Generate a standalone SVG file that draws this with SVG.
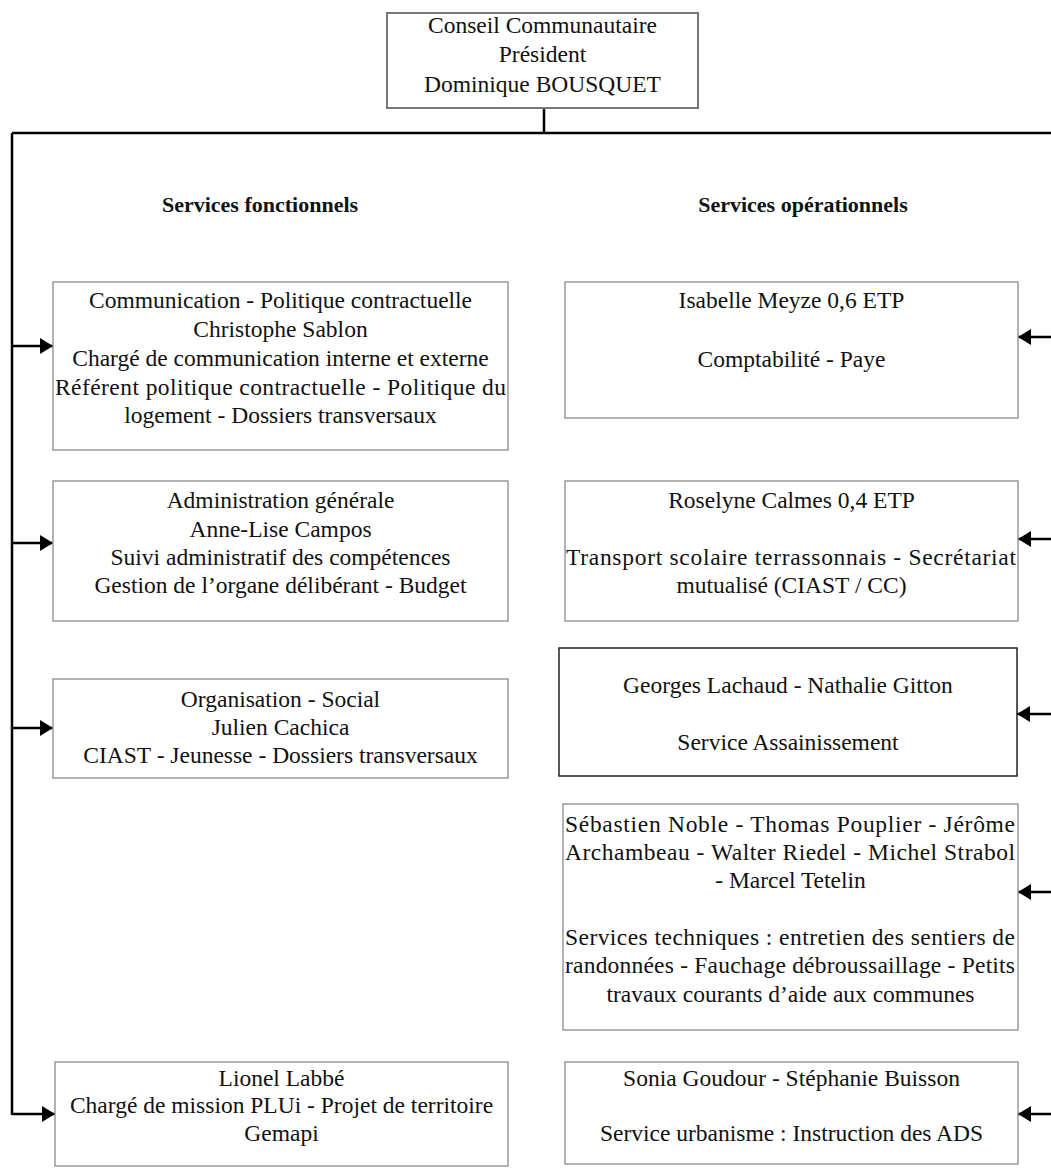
<svg xmlns="http://www.w3.org/2000/svg" width="1051" height="1168" viewBox="0 0 1051 1168">
  <style>
    text { font-family: "Liberation Serif", "Times New Roman", serif; font-size: 23.5px; fill: #111; text-anchor: middle; }
    .h { font-family: "Liberation Serif", "DejaVu Serif", serif; font-weight: 700; font-size: 22px; }
    .j { text-anchor: start; }
    .box { fill: #fff; stroke: #9a9a9a; stroke-width: 1.5; }
    .boxd { fill: #fff; stroke: #222; stroke-width: 1.5; }
    .top { fill: #fff; stroke: #777; stroke-width: 2; }
    .wire { fill: none; stroke: #000; stroke-width: 2.5; }
  </style>
  <defs>
    <marker id="ah" markerUnits="userSpaceOnUse" markerWidth="14" markerHeight="16" refX="13" refY="8" orient="auto">
      <path d="M0,0 L13,8 L0,16 z" fill="#000"/>
    </marker>
  </defs>
  <rect width="1051" height="1168" fill="#fff"/>

  <g id="connectors">
    <path class="wire" d="M544,108 V133"/>
    <path class="wire" d="M12,133 H1051"/>
    <path class="wire" d="M12,133 V1115"/>
    <path class="wire" d="M12,346 H53" marker-end="url(#ah)"/>
    <path class="wire" d="M12,543 H53" marker-end="url(#ah)"/>
    <path class="wire" d="M12,728 H53" marker-end="url(#ah)"/>
    <path class="wire" d="M12,1114 H55" marker-end="url(#ah)"/>
    <path class="wire" d="M1051,337 H1018" marker-end="url(#ah)"/>
    <path class="wire" d="M1051,539 H1018" marker-end="url(#ah)"/>
    <path class="wire" d="M1051,714 H1017" marker-end="url(#ah)"/>
    <path class="wire" d="M1051,892 H1018" marker-end="url(#ah)"/>
    <path class="wire" d="M1051,1114 H1018" marker-end="url(#ah)"/>
  </g>

  <g id="president">
    <rect class="top" x="387" y="13" width="311" height="95"/>
    <text x="542.5" y="33">Conseil Communautaire</text>
    <text x="542.5" y="62">Président</text>
    <text x="542.5" y="92">Dominique BOUSQUET</text>
  </g>

  <g id="heading-fonctionnels">
    <text class="h" x="260" y="212">Services fonctionnels</text>
  </g>
  <g id="heading-operationnels">
    <text class="h" x="803" y="212">Services opérationnels</text>
  </g>

  <g id="communication">
    <rect class="box" x="53" y="282" width="455" height="168"/>
    <text x="280.5" y="308">Communication - Politique contractuelle</text>
    <text x="280.5" y="337">Christophe Sablon</text>
    <text x="280.5" y="366">Chargé de communication interne et externe</text>
    <text class="j" x="55" y="395" textLength="451" lengthAdjust="spacing">Référent politique contractuelle - Politique du</text>
    <text x="280.5" y="423">logement - Dossiers transversaux</text>
  </g>

  <g id="administration">
    <rect class="box" x="53" y="481" width="455" height="140"/>
    <text x="280.5" y="508">Administration générale</text>
    <text x="280.5" y="537">Anne-Lise Campos</text>
    <text x="280.5" y="565">Suivi administratif des compétences</text>
    <text x="280.5" y="593">Gestion de l’organe délibérant - Budget</text>
  </g>

  <g id="organisation">
    <rect class="box" x="53" y="679" width="455" height="99"/>
    <text x="280.5" y="707">Organisation - Social</text>
    <text x="280.5" y="735">Julien Cachica</text>
    <text x="280.5" y="763">CIAST - Jeunesse - Dossiers transversaux</text>
  </g>

  <g id="lionel">
    <rect class="box" x="55" y="1062" width="453" height="104"/>
    <text x="281.5" y="1086">Lionel Labbé</text>
    <text x="281.5" y="1113">Chargé de mission PLUi - Projet de territoire</text>
    <text x="281.5" y="1141">Gemapi</text>
  </g>

  <g id="isabelle">
    <rect class="box" x="565" y="282" width="453" height="136"/>
    <text x="791.5" y="308">Isabelle Meyze 0,6 ETP</text>
    <text x="791.5" y="367">Comptabilité - Paye</text>
  </g>

  <g id="roselyne">
    <rect class="box" x="565" y="481" width="453" height="140"/>
    <text x="791.5" y="508">Roselyne Calmes 0,4 ETP</text>
    <text class="j" x="566" y="565" textLength="450" lengthAdjust="spacing">Transport scolaire terrassonnais - Secrétariat</text>
    <text x="791.5" y="593">mutualisé (CIAST / CC)</text>
  </g>

  <g id="assainissement">
    <rect class="boxd" x="559" y="648" width="458" height="128"/>
    <text x="788" y="693">Georges Lachaud - Nathalie Gitton</text>
    <text x="788" y="750">Service Assainissement</text>
  </g>

  <g id="techniques">
    <rect class="box" x="563" y="804" width="455" height="226"/>
    <text class="j" x="565" y="832" textLength="450" lengthAdjust="spacing">Sébastien Noble - Thomas Pouplier - Jérôme</text>
    <text class="j" x="565" y="860" textLength="450" lengthAdjust="spacing">Archambeau - Walter Riedel - Michel Strabol</text>
    <text x="790.5" y="888">- Marcel Tetelin</text>
    <text class="j" x="565" y="945" textLength="450" lengthAdjust="spacing">Services techniques : entretien des sentiers de</text>
    <text class="j" x="565" y="973" textLength="450" lengthAdjust="spacing">randonnées - Fauchage débroussaillage - Petits</text>
    <text x="790.5" y="1002">travaux courants d’aide aux communes</text>
  </g>

  <g id="urbanisme">
    <rect class="box" x="565" y="1062" width="453" height="102"/>
    <text x="791.5" y="1086">Sonia Goudour - Stéphanie Buisson</text>
    <text x="791.5" y="1141">Service urbanisme : Instruction des ADS</text>
  </g>
</svg>
